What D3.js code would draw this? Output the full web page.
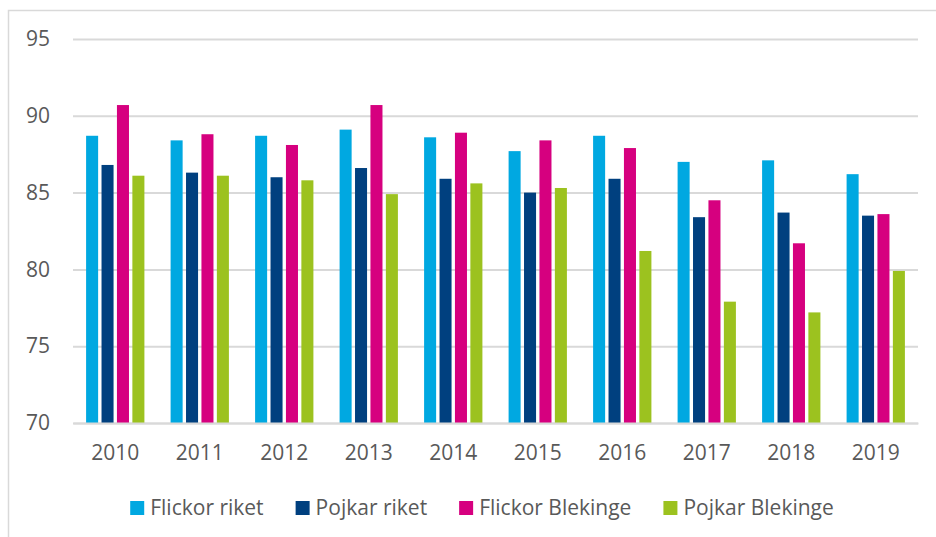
<!DOCTYPE html>
<html>
<head>
<meta charset="utf-8">
<script src="https://cdn.jsdelivr.net/npm/d3@7"></script>
<style>
html,body{margin:0;padding:0;background:#fff;}
svg{display:block;}
</style>
</head>
<body>
<script>
const years = ["2010","2011","2012","2013","2014","2015","2016","2017","2018","2019"];
const seriesNames = ["Flickor riket","Pojkar riket","Flickor Blekinge","Pojkar Blekinge"];
const flickorRiket   = [88.7, 88.4, 88.7, 89.1, 88.6, 87.7, 88.7, 87.0, 87.1, 86.2];
const pojkarRiket    = [86.8, 86.3, 86.0, 86.6, 85.9, 85.0, 85.9, 83.4, 83.7, 83.5];
const flickorBlekinge= [90.7, 88.8, 88.1, 90.7, 88.9, 88.4, 87.9, 84.5, 81.7, 83.6];
const pojkarBlekinge = [86.1, 86.1, 85.8, 84.9, 85.6, 85.3, 81.2, 77.9, 77.2, 79.9];
const yTicks = [70, 75, 80, 85, 90, 95];
const colors = ["#00a8e1", "#00407f", "#d6007f", "#9cc21f"];

const seriesValues = [flickorRiket, pojkarRiket, flickorBlekinge, pojkarBlekinge];
const W = 936, H = 537;
const svg = d3.select("body").append("svg").attr("width", W).attr("height", H);
const font = "'Open Sans', sans-serif";

// outer frame
svg.append("rect").attr("x", 8.5).attr("y", 10.5).attr("width", 1000).attr("height", 1000)
  .attr("fill", "none").attr("stroke", "#d9d9d9").attr("stroke-width", 1.5);

const left = 73, right = 918;
const y = d3.scaleLinear().domain([70, 95]).range([423, 39]);
const x0 = d3.scaleBand().domain(years).range([left, right]).paddingInner(0.31).paddingOuter(0.155);
const x1 = d3.scaleBand().domain(seriesNames).range([0, x0.bandwidth()]).paddingInner(0.22);

// gridlines
const yAxis = d3.axisLeft(y).tickValues(yTicks).tickSize(-(right - left)).tickPadding(23).tickFormat(d3.format("d"));
const gy = svg.append("g").attr("transform", `translate(${left},0)`).call(yAxis);
gy.select(".domain").remove();
gy.selectAll(".tick line").attr("stroke", "#d9d9d9").attr("stroke-width", 2);
gy.selectAll(".tick text").attr("fill", "#595959").attr("font-family", font).attr("font-size", 21);

// bars
const groups = svg.append("g").selectAll("g").data(years).join("g")
  .attr("transform", d => `translate(${x0(d)},0)`);
groups.selectAll("rect").data((d, i) => seriesNames.map((s, k) => ({s, v: seriesValues[k][i], k})))
  .join("rect")
  .attr("x", d => x1(d.s))
  .attr("width", x1.bandwidth())
  .attr("y", d => y(d.v))
  .attr("height", d => y(70) - y(d.v))
  .attr("fill", d => colors[d.k]);

// x axis
const xAxis = d3.axisBottom(x0).tickSize(0).tickPadding(22);
const gx = svg.append("g").attr("transform", `translate(0,${y(70)})`).call(xAxis);
gx.select(".domain").attr("stroke", "#d9d9d9").attr("stroke-width", 2);
gx.selectAll(".tick text").attr("fill", "#595959").attr("font-family", font).attr("font-size", 21);

// legend
const legend = svg.append("g");
let cx = 0;
const gap = 32;
seriesNames.forEach((name, k) => {
  const g = legend.append("g");
  g.append("rect").attr("x", 0).attr("y", -14).attr("width", 14).attr("height", 14).attr("fill", colors[k]);
  const t = g.append("text").attr("x", 20).attr("y", 0).attr("fill", "#595959")
    .attr("font-family", font).attr("font-size", 21).text(name);
  const w = t.node().getComputedTextLength();
  g.attr("transform", `translate(${cx},0)`);
  cx += 20 + w + gap;
});
const totalW = cx - gap;
legend.attr("transform", `translate(${482 - totalW / 2},515)`);
</script>
</body>
</html>
